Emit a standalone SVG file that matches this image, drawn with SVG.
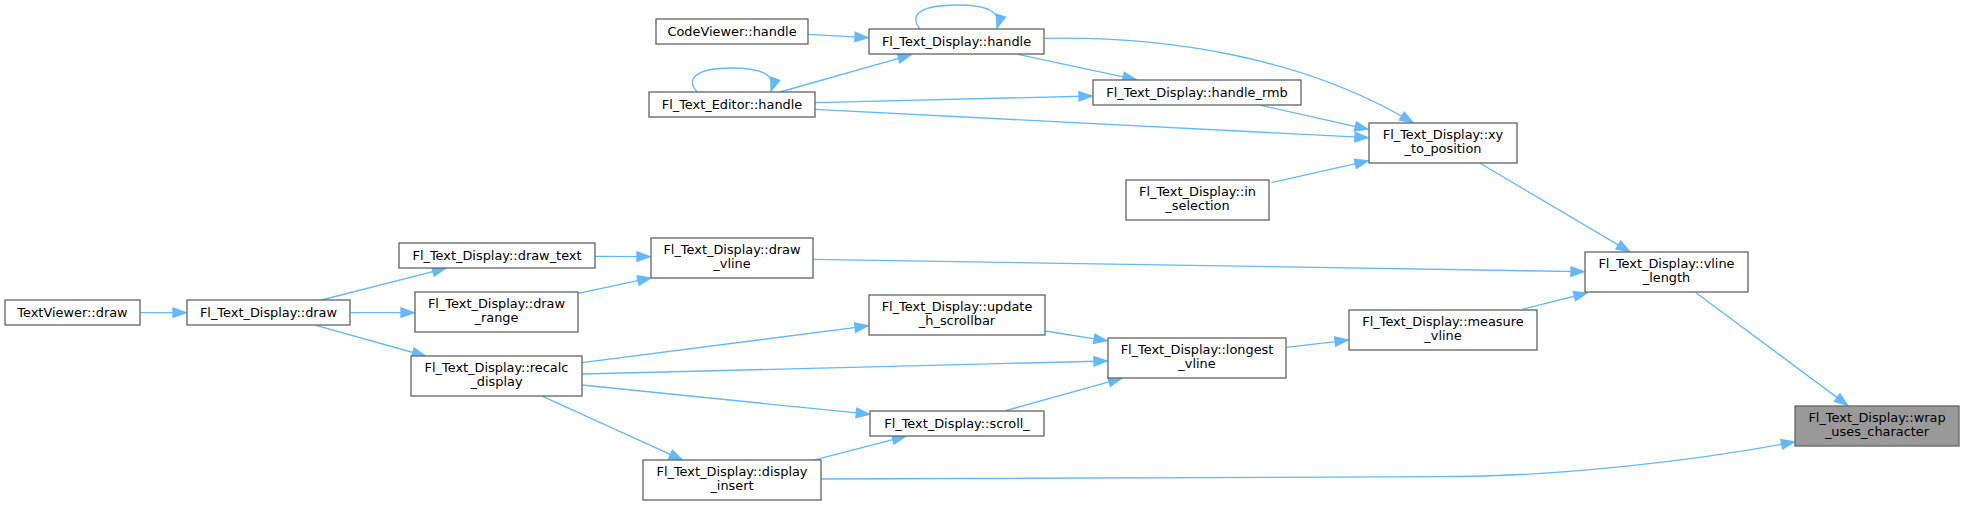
<svg xmlns="http://www.w3.org/2000/svg" width="1964" height="506" viewBox="0 0 1964 506">
<defs>
<marker id="ah" markerUnits="userSpaceOnUse" markerWidth="16" markerHeight="12" refX="13" refY="4.7" orient="auto" overflow="visible">
<path d="M0,0 L13,4.7 L0,9.4 Z" fill="#63b8ff" stroke="#63b8ff" stroke-width="1.33"/>
</marker>
</defs>
<style>
.n rect{fill:#ffffff;stroke:#666666;stroke-width:1.33}
.n.cur rect{fill:#999999}
.n text{font-family:"DejaVu Sans",sans-serif;font-size:12.9px;fill:#000000;text-anchor:middle}
#edges path{fill:none;stroke:#63b8ff;stroke-width:1.33;marker-end:url(#ah)}
</style>
<rect width="1964" height="506" fill="#ffffff"/>
<g id="edges">
<path d="M808,34.3 L868,37.7"/>
<path d="M920,29 C908,14 922,5 957,5 C988,5 1002,12 997,28"/>
<path d="M697,92 C684,77 700,68 731,68 C760,68 777,74 771,91"/>
<path d="M780,92 L911,54.8"/>
<path d="M815,102.7 L1092,96"/>
<path d="M815,109.3 L1368,137.7"/>
<path d="M1018,54.3 L1136,79.7"/>
<path d="M1044.6,38.3 C1160,36 1300,55 1413,122.8"/>
<path d="M1260.7,105.3 L1368,129.3"/>
<path d="M1271.4,182.7 L1368,160.9"/>
<path d="M1480,163.3 L1629.5,251.6"/>
<path d="M813,259.3 L1584,271.7"/>
<path d="M1522.3,309.3 L1587,293"/>
<path d="M1696,292.7 L1847.6,405.4"/>
<path d="M821,479 L1440,476.7 C1560,476.7 1700,460 1794.5,441.9"/>
<path d="M140.2,312.7 L186,312.7"/>
<path d="M321.4,300 L445.6,268.3"/>
<path d="M350.4,312.7 L414,312.7"/>
<path d="M316,325.3 L425.4,356"/>
<path d="M595,256.3 L650,256.7"/>
<path d="M578,293.3 L650.8,277.9"/>
<path d="M582,362.7 L868,325.8"/>
<path d="M582,374 L1107,361"/>
<path d="M582,385 L869.3,414.2"/>
<path d="M542.6,396.3 L682.3,459.9"/>
<path d="M1045.3,331 L1107,340.8"/>
<path d="M1004.6,411 L1121.6,378.3"/>
<path d="M812.7,460.3 L905.5,436.3"/>
<path d="M1286.4,347.3 L1348,340.1"/>
</g>
<g id="n_codeviewer_handle" class="n"><rect x="656" y="19" width="152" height="25"/><text x="732" y="35.5">CodeViewer::handle</text></g>
<g id="n_ftd_handle" class="n"><rect x="869" y="29" width="175" height="25"/><text x="956.5" y="45.5">Fl_Text_Display::handle</text></g>
<g id="n_fte_handle" class="n"><rect x="649" y="92" width="166" height="25"/><text x="732" y="108.5">Fl_Text_Editor::handle</text></g>
<g id="n_handle_rmb" class="n"><rect x="1093" y="80" width="208" height="25"/><text x="1197" y="96.5">Fl_Text_Display::handle_rmb</text></g>
<g id="n_in_selection" class="n"><rect x="1126" y="180" width="143" height="40"/><text x="1197.5" y="195.5">Fl_Text_Display::in</text><text x="1197.5" y="210">_selection</text></g>
<g id="n_xy_to_position" class="n"><rect x="1369" y="123" width="148" height="40"/><text x="1443" y="138.5">Fl_Text_Display::xy</text><text x="1443" y="153">_to_position</text></g>
<g id="n_vline_length" class="n"><rect x="1585" y="252" width="163" height="40"/><text x="1666.5" y="267.5">Fl_Text_Display::vline</text><text x="1666.5" y="282">_length</text></g>
<g id="n_measure_vline" class="n"><rect x="1349" y="310" width="188" height="40"/><text x="1443" y="325.5">Fl_Text_Display::measure</text><text x="1443" y="340">_vline</text></g>
<g id="n_wrap_uses_character" class="n cur"><rect x="1795" y="406" width="164" height="40"/><text x="1877" y="421.5">Fl_Text_Display::wrap</text><text x="1877" y="436">_uses_character</text></g>
<g id="n_textviewer_draw" class="n"><rect x="5" y="300" width="135" height="25"/><text x="72.5" y="316.5">TextViewer::draw</text></g>
<g id="n_ftd_draw" class="n"><rect x="187" y="300" width="163" height="25"/><text x="268.5" y="316.5">Fl_Text_Display::draw</text></g>
<g id="n_draw_text" class="n"><rect x="399" y="243" width="196" height="25"/><text x="497" y="259.5">Fl_Text_Display::draw_text</text></g>
<g id="n_draw_range" class="n"><rect x="415" y="292" width="163" height="40"/><text x="496.5" y="307.5">Fl_Text_Display::draw</text><text x="496.5" y="322">_range</text></g>
<g id="n_recalc_display" class="n"><rect x="411" y="356" width="171" height="40"/><text x="496.5" y="371.5">Fl_Text_Display::recalc</text><text x="496.5" y="386">_display</text></g>
<g id="n_draw_vline" class="n"><rect x="651" y="238" width="162" height="40"/><text x="732" y="253.5">Fl_Text_Display::draw</text><text x="732" y="268">_vline</text></g>
<g id="n_display_insert" class="n"><rect x="643" y="460" width="178" height="40"/><text x="732" y="475.5">Fl_Text_Display::display</text><text x="732" y="490">_insert</text></g>
<g id="n_update_h_scrollbar" class="n"><rect x="869" y="295" width="176" height="40"/><text x="957" y="310.5">Fl_Text_Display::update</text><text x="957" y="325">_h_scrollbar</text></g>
<g id="n_scroll_" class="n"><rect x="870" y="411" width="174" height="25"/><text x="957" y="427.5">Fl_Text_Display::scroll_</text></g>
<g id="n_longest_vline" class="n"><rect x="1108" y="338" width="178" height="40"/><text x="1197" y="353.5">Fl_Text_Display::longest</text><text x="1197" y="368">_vline</text></g>
</svg>
